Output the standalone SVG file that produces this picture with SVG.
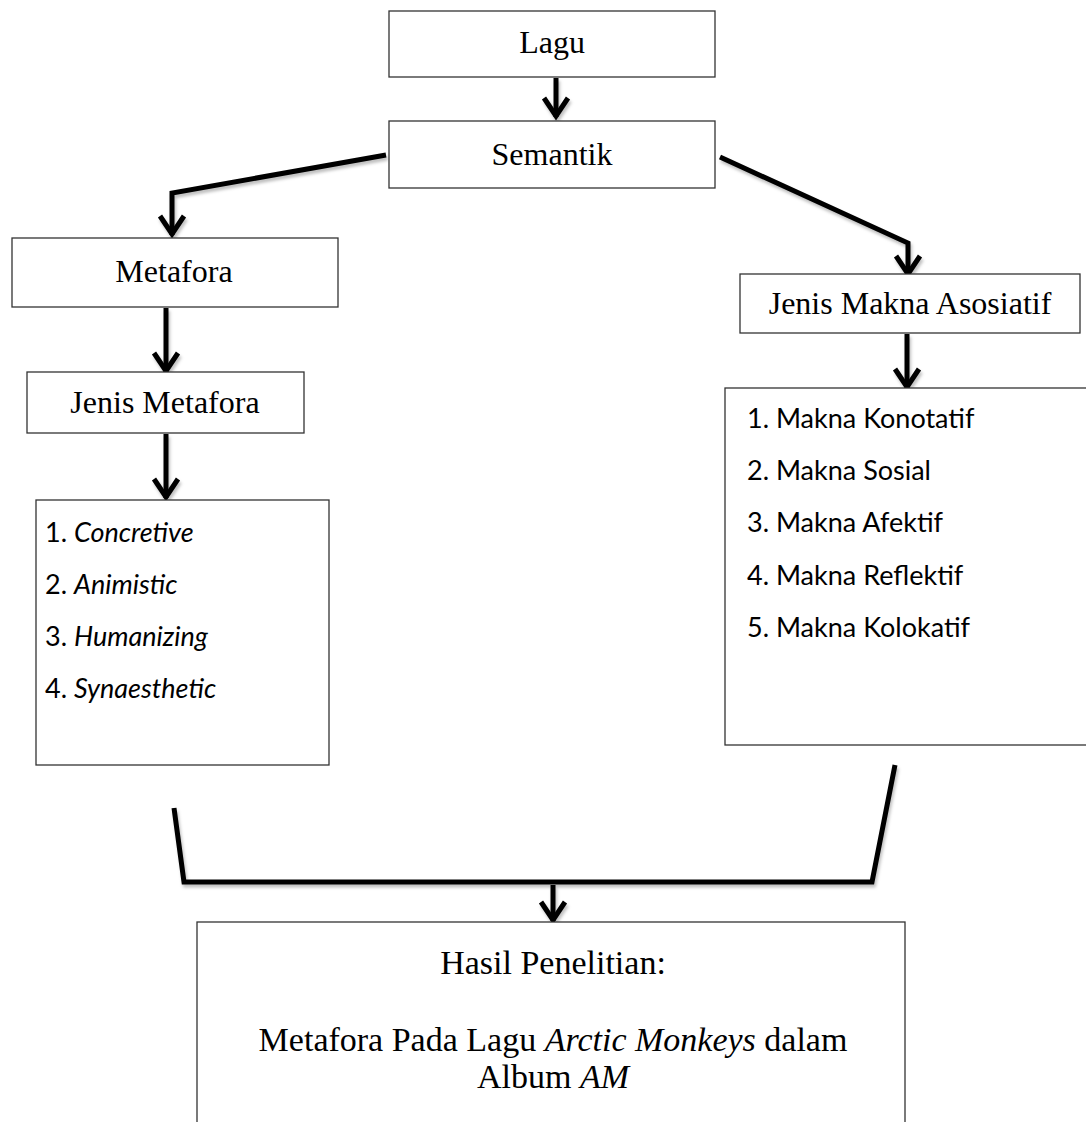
<svg xmlns="http://www.w3.org/2000/svg" width="1086" height="1122" viewBox="0 0 1086 1122">
  <style>
    .box { fill: #ffffff; stroke: #333333; stroke-width: 1.3; }
    .lbl { font-family: "Liberation Serif", "Times New Roman", serif; font-size: 32px; fill: #000; text-anchor: middle; }
    .big { font-size: 34px; }
    .item { font-family: Lato, "Open Sans", sans-serif; font-size: 27px; fill: #000; }
    .conn { fill: none; stroke: #000; stroke-width: 5; stroke-linejoin: miter; stroke-linecap: butt; }
    .it { font-style: italic; }
  </style>
  <defs>
    <filter id="sh" filterUnits="userSpaceOnUse" x="0" y="0" width="1086" height="1122">
      <feDropShadow dx="1.5" dy="3" stdDeviation="1.5" flood-color="#000" flood-opacity="0.25"/>
    </filter>
    <marker id="arr" markerUnits="userSpaceOnUse" viewBox="-26 -16 32 32" markerWidth="32" markerHeight="32" refX="0" refY="0" orient="auto">
      <path d="M -19,-12 L -1,0 L -19,12" fill="none" stroke="#000" stroke-width="5"/>
    </marker>
  </defs>

  <g id="connectors" filter="url(#sh)">
    <path class="conn" d="M 556,78 L 556,117" marker-end="url(#arr)"/>
    <path class="conn" d="M 386,155 L 172,193 L 172,235" marker-end="url(#arr)"/>
    <path class="conn" d="M 720,157 L 908,243 L 908,275" marker-end="url(#arr)"/>
    <path class="conn" d="M 166,308 L 166,372" marker-end="url(#arr)"/>
    <path class="conn" d="M 166,434 L 166,498" marker-end="url(#arr)"/>
    <path class="conn" d="M 907,334 L 907,388" marker-end="url(#arr)"/>
    <path class="conn" d="M 174,808 L 184,882 L 872,882 L 895,765"/>
    <path class="conn" d="M 553,885 L 553,921" marker-end="url(#arr)"/>
  </g>

  <g id="lagu">
    <rect class="box" x="389" y="11" width="326" height="66"/>
    <text class="lbl" x="552" y="53">Lagu</text>
  </g>
  <g id="semantik">
    <rect class="box" x="389" y="121" width="326" height="67"/>
    <text class="lbl" x="552" y="165">Semantik</text>
  </g>
  <g id="metafora">
    <rect class="box" x="12" y="238" width="326" height="69"/>
    <text class="lbl" x="174" y="282">Metafora</text>
  </g>
  <g id="jenis-metafora">
    <rect class="box" x="27" y="372" width="277" height="61"/>
    <text class="lbl" x="165" y="413">Jenis Metafora</text>
  </g>
  <g id="list-metafora">
    <rect class="box" x="36" y="500" width="293" height="265"/>
    <text class="item" x="45" y="542">1. <tspan class="it">Concretive</tspan></text>
    <text class="item" x="45" y="594">2. <tspan class="it">Animistic</tspan></text>
    <text class="item" x="45" y="646">3. <tspan class="it">Humanizing</tspan></text>
    <text class="item" x="45" y="698">4. <tspan class="it">Synaesthetic</tspan></text>
  </g>
  <g id="jenis-makna">
    <rect class="box" x="740" y="274" width="340" height="59"/>
    <text class="lbl" x="910" y="314">Jenis Makna Asosiatif</text>
  </g>
  <g id="list-makna">
    <rect class="box" x="725" y="388" width="364" height="357"/>
    <text class="item" x="747" y="428">1. Makna Konotatif</text>
    <text class="item" x="747" y="480">2. Makna Sosial</text>
    <text class="item" x="747" y="532">3. Makna Afektif</text>
    <text class="item" x="747" y="585">4. Makna Reflektif</text>
    <text class="item" x="747" y="637">5. Makna Kolokatif</text>
  </g>
  <g id="hasil">
    <rect class="box" x="197" y="922" width="708" height="210"/>
    <text class="lbl big" x="553" y="974">Hasil Penelitian:</text>
    <text class="lbl big" x="553" y="1051">Metafora Pada Lagu <tspan class="it">Arctic Monkeys</tspan> dalam</text>
    <text class="lbl big" x="553" y="1088">Album <tspan class="it">AM</tspan></text>
  </g>
</svg>
